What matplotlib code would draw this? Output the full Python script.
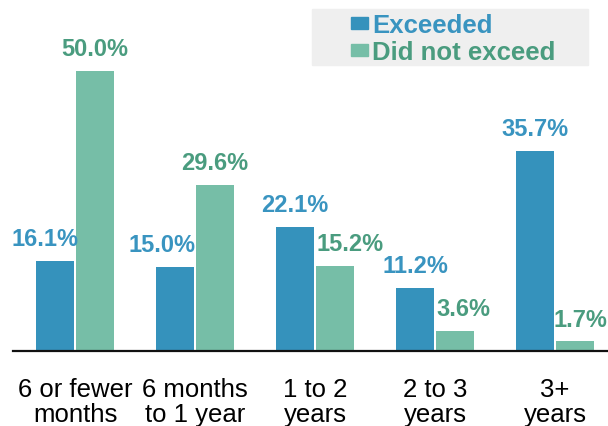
import matplotlib
matplotlib.use("Agg")
import matplotlib.pyplot as plt
from matplotlib.patches import Rectangle
import numpy as np

plt.rcParams['font.family'] = ['Liberation Sans', 'DejaVu Sans']

categories = ["6 or fewer\nmonths", "6 months\nto 1 year", "1 to 2\nyears",
              "2 to 3\nyears", "3+\nyears"]
exceeded = [16.1, 15.0, 22.1, 11.2, 35.7]
not_exceeded = [50.0, 29.6, 15.2, 3.6, 1.7]

BLUE = "#3592bc"
GREEN = "#76bea7"
BLUE_TXT = "#3994c0"
GREEN_TXT = "#4a9c7f"

# nudges (points) so labels don't collide with the neighbouring bar
blue_dx = [-7, -9, 0, 0, 0]
green_dx = [0, 0, 11, 6, 4]

fig = plt.figure(figsize=(6.08, 4.27), dpi=100)
ax = fig.add_axes([13 / 608, 1 - 352 / 427, 1 - 13 / 608, 352 / 427])

x = np.arange(len(categories))
w = 0.318
off = 0.167
b1 = ax.bar(x - off, exceeded, w, color=BLUE)
b2 = ax.bar(x + off, not_exceeded, w, color=GREEN)

for bars, vals, dxs, col in [(b1, exceeded, blue_dx, BLUE_TXT),
                             (b2, not_exceeded, green_dx, GREEN_TXT)]:
    for rect, v, dx in zip(bars, vals, dxs):
        ax.annotate(f"{v:.1f}%", (rect.get_x() + rect.get_width() / 2, v),
                    xytext=(dx, 11.5), textcoords="offset points",
                    ha="center", va="baseline", fontsize=17,
                    fontweight="bold", color=col)

ax.set_xlim(-0.517, 4.442)
ax.set_ylim(0, 352 / 5.594)
ax.set_xticks(x)
ax.set_xticklabels(categories, fontsize=18.5, linespacing=1.05)
ax.tick_params(axis="x", length=0, pad=19)
ax.set_yticks([])
for s in ["top", "right", "left"]:
    ax.spines[s].set_visible(False)
ax.spines["bottom"].set_linewidth(1.6)
ax.spines["bottom"].set_color("#111111")

# legend panel
fig.patches.append(Rectangle((312 / 608, 1 - 66 / 427), 276 / 608, 56 / 427,
                             transform=fig.transFigure, color="#efefef",
                             zorder=0))
for (yt, label, sq, tc) in [(18, "Exceeded", BLUE, BLUE_TXT),
                            (45, "Did not exceed", GREEN, GREEN_TXT)]:
    fig.patches.append(Rectangle((351 / 608, 1 - (yt + 12) / 427), 17 / 608,
                                 12 / 427, transform=fig.transFigure,
                                 color=sq, zorder=1))
    fig.text(372 / 608, 1 - (yt + 15) / 427, label, fontsize=18.5,
             fontweight="bold", color=tc, va="baseline", ha="left")

fig.savefig("out.png", dpi=100)
